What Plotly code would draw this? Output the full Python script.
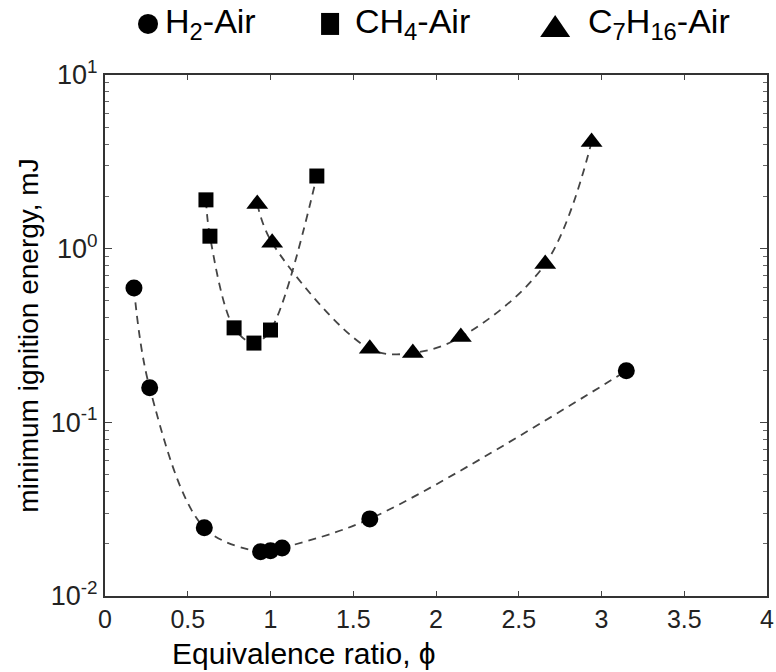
import plotly.graph_objects as go

# Data
h2_phi = [0.175, 0.27, 0.60, 0.94, 1.00, 1.07, 1.60, 3.15]
h2_mie = [0.594, 0.158, 0.0247, 0.0180, 0.0182, 0.0189, 0.0278, 0.198]

ch4_phi = [0.61, 0.634, 0.78, 0.90, 1.00, 1.28]
ch4_mie = [1.91, 1.18, 0.35, 0.286, 0.34, 2.62]

c7_phi = [0.92, 1.01, 1.60, 1.86, 2.15, 2.66, 2.94]
c7_mie = [1.81, 1.08, 0.265, 0.251, 0.31, 0.817, 4.11]

names = ["H<sub>2</sub>-Air", "CH<sub>4</sub>-Air", "C<sub>7</sub>H<sub>16</sub>-Air"]
symbols = ["circle", "square", "triangle-up"]
series = [(h2_phi, h2_mie), (ch4_phi, ch4_mie), (c7_phi, c7_mie)]
msizes = [17, 15, 19]

x_ticks = [0, 0.5, 1, 1.5, 2, 2.5, 3, 3.5, 4]
x_ticktext = ["0", "0.5", "1", "1.5", "2", "2.5", "3", "3.5", "4"]
y_ticks = [0.01, 0.1, 1, 10]
y_ticktext = ["10<sup>-2</sup>", "10<sup>-1</sup>", "10<sup>0</sup>", "10<sup>1</sup>"]

x_title = "Equivalence ratio, \u03d5"
y_title = "minimum ignition energy, mJ"

FONT = "Liberation Sans, Arial, sans-serif"

# legend layout (paper fractions): symbol anchor x, text left x, row y
leg_sym_x = [0.065, 0.340, 0.680]
leg_txt_x = [0.088, 0.375, 0.727]
leg_y = 1.098

fig = go.Figure()
for (xs, ys), nm, sym, ms in zip(series, names, symbols, msizes):
    fig.add_trace(go.Scatter(
        x=xs, y=ys, mode="lines", showlegend=False,
        line=dict(color="#444444", width=1.8, dash="8px,6px", shape="spline", smoothing=1.0),
        hoverinfo="skip"))
for (xs, ys), nm, sym, ms in zip(series, names, symbols, msizes):
    fig.add_trace(go.Scatter(
        x=xs, y=ys, mode="markers", name=nm, showlegend=False,
        marker=dict(symbol=sym, size=ms, color="black")))

# legend drawn as shapes + text annotations
common = dict(xref="paper", yref="paper", xsizemode="pixel", ysizemode="pixel",
              fillcolor="black", line=dict(color="black", width=0), layer="above")
fig.add_shape(type="circle", xanchor=leg_sym_x[0], yanchor=leg_y,
              x0=-10, x1=10, y0=-10, y1=10, **common)
fig.add_shape(type="rect", xanchor=leg_sym_x[1], yanchor=leg_y,
              x0=-9, x1=9, y0=-11, y1=11, **common)
fig.add_shape(type="path", xanchor=leg_sym_x[2], yanchor=leg_y - 0.004,
              path="M -15,-11 L 15,-11 L 0,11 Z", **common)

annotations = [dict(text=x_title, xref="paper", yref="paper", x=0.30, y=-0.1459,
                    xanchor="center", yanchor="bottom", showarrow=False,
                    font=dict(size=30, family=FONT, color="black"))]
for nm, tx in zip(names, leg_txt_x):
    annotations.append(dict(text=nm, xref="paper", yref="paper", x=tx, y=leg_y,
                            xanchor="left", yanchor="middle", showarrow=False,
                            font=dict(size=34, family=FONT, color="black")))

fig.update_layout(
    width=776, height=672,
    margin=dict(l=105, r=9, t=75, b=76, autoexpand=False),
    paper_bgcolor="white", plot_bgcolor="white",
    font=dict(family=FONT, color="black", size=24),
    showlegend=False,
    xaxis=dict(range=[0, 4], tickvals=x_ticks, ticktext=x_ticktext,
               ticks="inside", ticklen=5, tickwidth=1, tickcolor="#444",
               showline=True, linecolor="#333", linewidth=2, mirror="ticks",
               showgrid=False, zeroline=False, automargin=False,
               tickfont=dict(size=25, color="#222")),
    yaxis=dict(type="log", range=[-2, 1], tickvals=y_ticks, ticktext=y_ticktext,
               ticks="inside", ticklen=7, tickwidth=1, tickcolor="#444",
               minor=dict(ticks="inside", ticklen=4, tickcolor="#666", dtick="D1"),
               showline=True, linecolor="#333", linewidth=2, mirror="ticks",
               showgrid=False, zeroline=False, automargin=False,
               tickfont=dict(size=27, color="#222"),
               title=dict(text=y_title, font=dict(size=28), standoff=4)),
    annotations=annotations,
)

fig.write_html("out.html")
